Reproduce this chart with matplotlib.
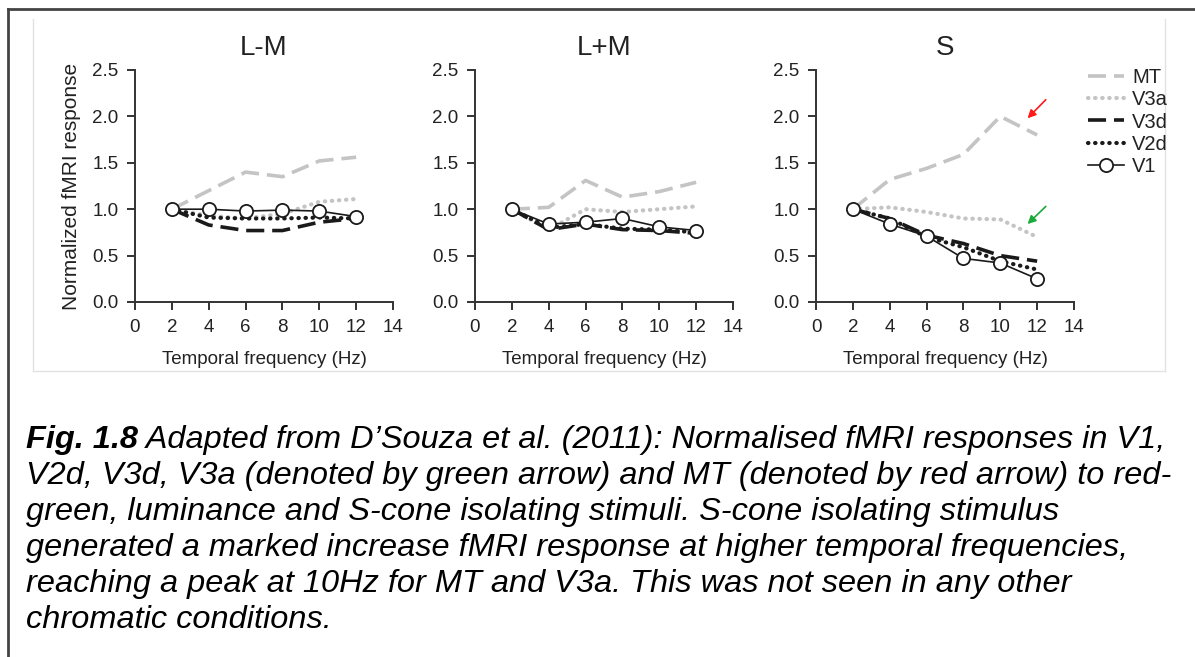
import matplotlib
matplotlib.use("Agg")
import matplotlib.pyplot as plt
from matplotlib.lines import Line2D
from matplotlib.text import Annotation

plt.rcParams['font.family'] = ['Liberation Sans', 'DejaVu Sans']

freq = [2, 4, 6, 8, 10, 12]
panels = ["L-M", "L+M", "S"]

mt = {
    "L-M": [1.0, 1.2, 1.4, 1.35, 1.52, 1.56],
    "L+M": [1.0, 1.02, 1.31, 1.13, 1.19, 1.29],
    "S":   [1.0, 1.32, 1.44, 1.59, 2.0, 1.8],
}
v3a = {
    "L-M": [1.0, 0.93, 0.9, 0.95, 1.08, 1.11],
    "L+M": [1.0, 0.78, 1.0, 0.97, 1.0, 1.03],
    "S":   [1.0, 1.02, 0.97, 0.9, 0.89, 0.7],
}
v3d = {
    "L-M": [1.0, 0.83, 0.77, 0.77, 0.86, 0.9],
    "L+M": [1.0, 0.78, 0.84, 0.78, 0.77, 0.74],
    "S":   [1.0, 0.9, 0.72, 0.63, 0.5, 0.44],
}
v2d = {
    "L-M": [1.0, 0.91, 0.9, 0.9, 0.91, 0.9],
    "L+M": [1.0, 0.8, 0.84, 0.79, 0.78, 0.75],
    "S":   [1.0, 0.9, 0.7, 0.59, 0.44, 0.35],
}
v1 = {
    "L-M": [1.0, 1.0, 0.98, 0.99, 0.98, 0.92],
    "L+M": [1.0, 0.84, 0.86, 0.9, 0.81, 0.77],
    "S":   [1.0, 0.84, 0.71, 0.47, 0.42, 0.25],
}

xticks = [0, 2, 4, 6, 8, 10, 12, 14]
yticks = [0.0, 0.5, 1.0, 1.5, 2.0, 2.5]

caption_bold = "Fig. 1.8"
caption_first = " Adapted from D\u2019Souza et al. (2011): Normalised fMRI responses in V1,"
caption_rest = [
    "V2d, V3d, V3a (denoted by green arrow) and MT (denoted by red arrow) to red-",
    "green, luminance and S-cone isolating stimuli. S-cone isolating stimulus",
    "generated a marked increase fMRI response at higher temporal frequencies,",
    "reaching a peak at 10Hz for MT and V3a. This was not seen in any other",
    "chromatic conditions.",
]

W, H = 1195, 657
fig = plt.figure(figsize=(W / 100, H / 100), dpi=100)
fig.patch.set_facecolor("white")

def fx(px):
    return px / W

def fy(py):
    return 1 - py / H

lefts = [135, 475, 816]
ax_w = 258
ax_top, ax_bot = 70, 302
txtc = "#222222"
gray = "#c4c4c4"

axes = []
for i, (name, lp) in enumerate(zip(panels, lefts)):
    ax = fig.add_axes([fx(lp), fy(ax_bot), ax_w / W, (ax_bot - ax_top) / H])
    axes.append(ax)
    ax.plot(freq, mt[name], color=gray, lw=2.6, dashes=(5, 2.2), label="MT", clip_on=False)
    ax.plot(freq, v3a[name], color=gray, lw=3, linestyle=(0, (0.1, 1.6)),
            dash_capstyle="round", label="V3a", clip_on=False)
    ax.plot(freq, v3d[name], color="#1a1a1a", lw=2.6, dashes=(5, 2.2), label="V3d", clip_on=False)
    ax.plot(freq, v2d[name], color="#1a1a1a", lw=3, linestyle=(0, (0.1, 1.6)),
            dash_capstyle="round", label="V2d", clip_on=False)
    ax.plot(freq, v1[name], color="#1a1a1a", lw=1.2, marker="o", markersize=9.5,
            markerfacecolor="white", markeredgecolor="#1a1a1a", markeredgewidth=1.3,
            label="V1", clip_on=False, zorder=5)
    ax.set_xlim(0, 14)
    ax.set_ylim(0, 2.5)
    ax.set_xticks(xticks)
    ax.set_yticks(yticks)
    ax.set_yticklabels([f"{v:.1f}" for v in yticks])
    for s in ["top", "right"]:
        ax.spines[s].set_visible(False)
    for s in ["left", "bottom"]:
        ax.spines[s].set_linewidth(1.4)
        ax.spines[s].set_color("#333333")
    ax.tick_params(direction="out", length=6, width=1.4, color="#333333",
                   labelsize=13.5, labelcolor=txtc, pad=6)
    ax.set_title(name, fontsize=20, color=txtc, pad=11)
    ax.set_xlabel("Temporal frequency (Hz)", fontsize=13.5, color=txtc, labelpad=11)
    ax.set_facecolor("none")

axes[0].set_ylabel("Normalized fMRI response", fontsize=15, color=txtc, labelpad=8)

# Legend
handles, labels = axes[2].get_legend_handles_labels()
fig.legend(handles, labels, loc="upper left", bbox_to_anchor=(fx(1080), fy(60)),
           frameon=False, fontsize=14.5, handlelength=1.8, handletextpad=0.4,
           labelspacing=0.16, labelcolor=txtc, borderaxespad=0)

# Arrows
axes[2].annotate("", xy=(11.48, 1.98), xytext=(12.47, 2.18),
                 arrowprops=dict(arrowstyle="-|>", color="#ff1a1a", lw=1.2,
                                 mutation_scale=12, shrinkA=0, shrinkB=0),
                 annotation_clip=False)
axes[2].annotate("", xy=(11.48, 0.84), xytext=(12.47, 1.03),
                 arrowprops=dict(arrowstyle="-|>", color="#1aaa3a", lw=1.2,
                                 mutation_scale=12, shrinkA=0, shrinkB=0),
                 annotation_clip=False)

# Frames
fig.add_artist(Line2D([fx(8), fx(8)], [fy(9), 0], color="#444444", lw=2))
fig.add_artist(Line2D([fx(8), 1], [fy(9), fy(9)], color="#444444", lw=2))
lg = "#e2e2e2"
fig.add_artist(Line2D([fx(33), fx(33)], [fy(19), fy(371)], color=lg, lw=1))
fig.add_artist(Line2D([fx(1165), fx(1165)], [fy(19), fy(371)], color=lg, lw=1))
fig.add_artist(Line2D([fx(33), fx(1165)], [fy(371), fy(371)], color=lg, lw=1))

# Caption
cap_size = 23.4
y0 = 440
step = 36
t0 = fig.text(fx(26), fy(y0), caption_bold, fontsize=cap_size, fontstyle="italic",
              fontweight="bold", va="center", ha="left", color="black")
fig.add_artist(Annotation(caption_first, xy=(1, 0), xycoords=t0,
                          va="bottom", ha="left", fontsize=cap_size,
                          fontstyle="italic", color="black"))
for k, line in enumerate(caption_rest):
    fig.text(fx(26), fy(y0 + step * (k + 1)), line, fontsize=cap_size,
             fontstyle="italic", va="center", ha="left", color="black")

fig.savefig("out.png", dpi=100, facecolor="white")
